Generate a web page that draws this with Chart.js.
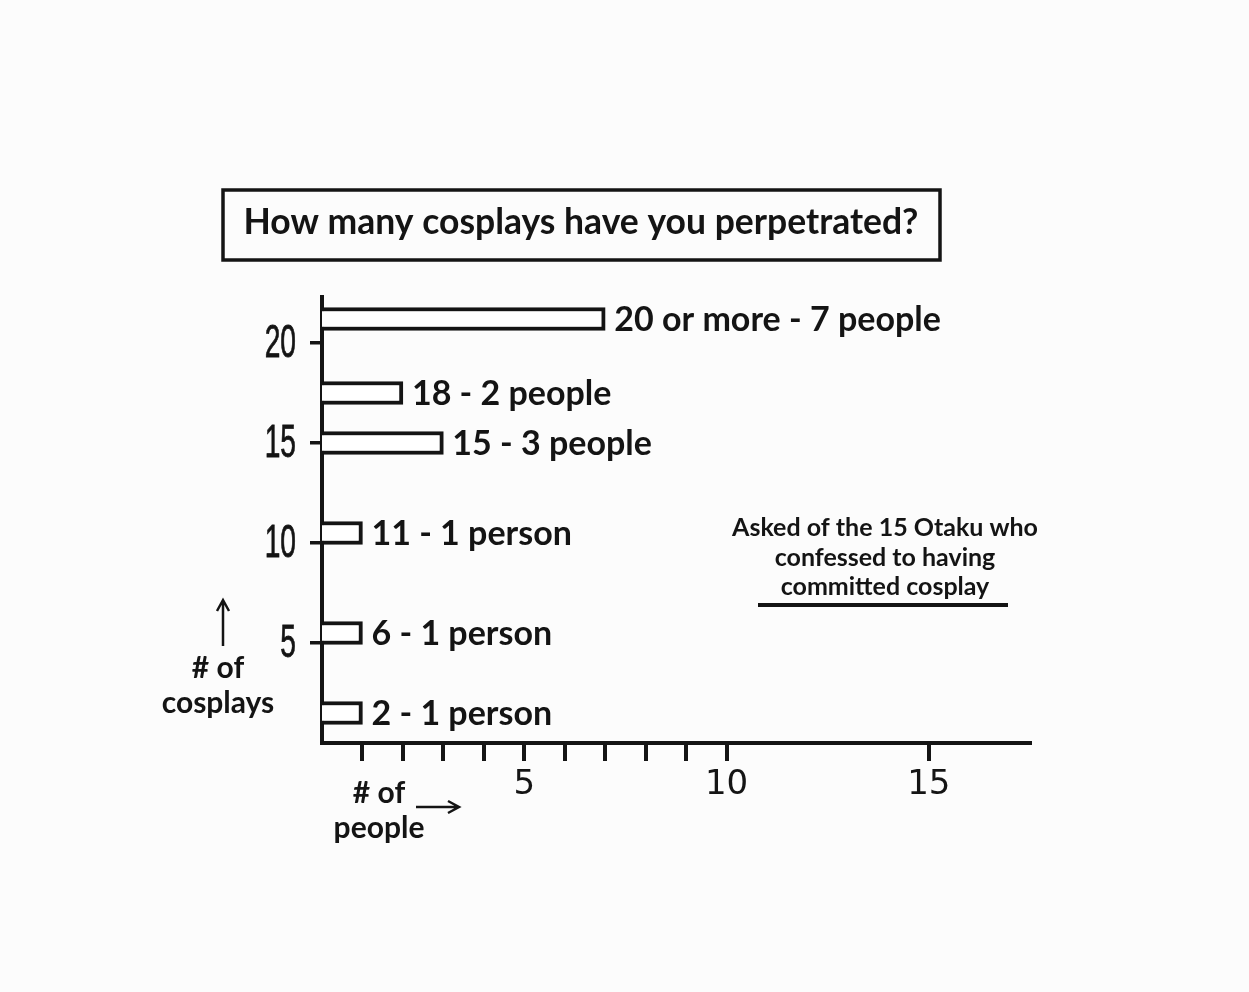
<!DOCTYPE html>
<html>
<head>
<meta charset="utf-8">
<script src="https://cdn.jsdelivr.net/npm/chart.js@4/dist/chart.umd.min.js"></script>
<style>
body { margin: 0; background: #fcfcfc; }
canvas { display: block; }
</style>
</head>
<body>
<canvas id="myChart" width="1249" height="992"></canvas>
<script>
// number of cosplays (category) and how many people answered it
var cosplayCounts = ['2', '6', '11', '15', '18', '20 or more'];
var barPositions = [1.5, 5.5, 10.5, 15, 17.5, 21.2]; // where the bar sits on the vertical scale
var people = [1, 1, 1, 3, 2, 7];
var barLabels = ['2 - 1 person', '6 - 1 person', '11 - 1 person', '15 - 3 people', '18 - 2 people', '20 or more - 7 people'];
var yTicks = [5, 10, 15, 20];
var xTicks = [1, 2, 3, 4, 5, 6, 7, 8, 9, 10, 15];
var xLabelTicks = [5, 10, 15];
var chartTitle = 'How many cosplays have you perpetrated?';
var noteLines = ['Asked of the 15 Otaku who', 'confessed to having', 'committed cosplay'];

var ink = '#141414';
var font = 'Lato, "Noto Sans", sans-serif';

var extras = {
    id: 'extras',
    afterDatasetsDraw: function(chart) {
        var ctx = chart.ctx;
        var meta = chart.getDatasetMeta(0);
        ctx.save();
        ctx.fillStyle = ink;
        ctx.font = 'bold 34px ' + font;
        ctx.textBaseline = 'middle';
        ctx.textAlign = 'left';
        meta.data.forEach(function(bar, i) {
            ctx.fillText(barLabels[i], bar.x + 9, bar.y + 1);
        });
        ctx.restore();
    },
    afterDraw: function(chart) {
        var ctx = chart.ctx;
        var yScale = chart.scales.y;
        ctx.save();
        ctx.fillStyle = ink;
        ctx.strokeStyle = ink;

        // narrow hand-lettered y tick labels
        ctx.font = '47px "Liberation Sans Narrow", "Liberation Sans", sans-serif';
        ctx.textAlign = 'right';
        ctx.textBaseline = 'middle';
        yTicks.forEach(function(v) {
            var y = yScale.getPixelForValue(v);
            ctx.save();
            ctx.translate(296, y + 1);
            ctx.scale(0.6, 1);
            ctx.fillText(String(v), 0, 0);
            ctx.lineWidth = 0.8;
            ctx.strokeStyle = ink;
            ctx.strokeText(String(v), 0, 0);
            ctx.restore();
        });

        // title box
        ctx.lineWidth = 3.5;
        ctx.strokeRect(223, 190, 717, 70);
        ctx.font = 'bold 35.5px ' + font;
        ctx.textAlign = 'center';
        ctx.fillText(chartTitle, 581, 223);

        // axis captions
        ctx.font = 'bold 30px ' + font;
        ctx.fillText('# of', 218, 668);
        ctx.fillText('cosplays', 218, 703);
        ctx.fillText('# of', 379, 793);
        ctx.fillText('people', 379, 828);

        ctx.lineWidth = 2.5;
        ctx.beginPath();
        ctx.moveTo(223, 646); ctx.lineTo(223, 602);
        ctx.moveTo(217, 611); ctx.lineTo(223, 600); ctx.lineTo(229, 611);
        ctx.moveTo(416, 807); ctx.lineTo(457, 807);
        ctx.moveTo(448, 801); ctx.lineTo(459, 807); ctx.lineTo(448, 813);
        ctx.stroke();

        // note
        ctx.font = 'bold 25px ' + font;
        noteLines.forEach(function(line, i) {
            ctx.fillText(line, 885, 528 + i * 29.5);
        });
        ctx.lineWidth = 4;
        ctx.beginPath();
        ctx.moveTo(758, 605); ctx.lineTo(1008, 605);
        ctx.stroke();
        ctx.restore();
    }
};

var ctx = document.getElementById('myChart').getContext('2d');
var chart = new Chart(ctx, {
    type: 'bar',
    data: {
        labels: cosplayCounts,
        datasets: [{
            label: '# of people',
            data: people.map(function(p, i) { return { x: p, y: barPositions[i] }; }),
            backgroundColor: '#ffffff',
            borderColor: ink,
            borderWidth: 4,
            borderSkipped: 'start',
            barThickness: 23
        }]
    },
    options: {
        responsive: false,
        animation: false,
        indexAxis: 'y',
        layout: { padding: { left: 222, right: 219, top: 297, bottom: 149 } },
        plugins: {
            legend: { display: false },
            tooltip: { enabled: false }
        },
        scales: {
            x: {
                type: 'linear',
                min: 0,
                max: 17.5,
                afterBuildTicks: function(scale) {
                    scale.ticks = xTicks.map(function(v) { return { value: v }; });
                },
                afterFit: function(scale) { scale.height = 100; },
                grid: { drawOnChartArea: false, color: ink, lineWidth: 4, tickLength: 18 },
                border: { color: ink, width: 4 },
                ticks: {
                    color: ink,
                    padding: 4,
                    maxRotation: 0,
                    autoSkip: false,
                    font: { family: '"DejaVu Sans", sans-serif', size: 34 },
                    callback: function(v) { return xLabelTicks.indexOf(v) >= 0 ? String(v) : ''; }
                }
            },
            y: {
                type: 'linear',
                min: 0,
                max: 22.3,
                offset: false,
                afterBuildTicks: function(scale) {
                    scale.ticks = yTicks.map(function(v) { return { value: v }; });
                },
                afterFit: function(scale) { scale.width = 100; },
                grid: { offset: false, drawOnChartArea: false, color: ink, lineWidth: 3.5, tickLength: 12 },
                border: { color: ink, width: 4 },
                ticks: { display: false }
            }
        }
    },
    plugins: [extras]
});
</script>
</body>
</html>
